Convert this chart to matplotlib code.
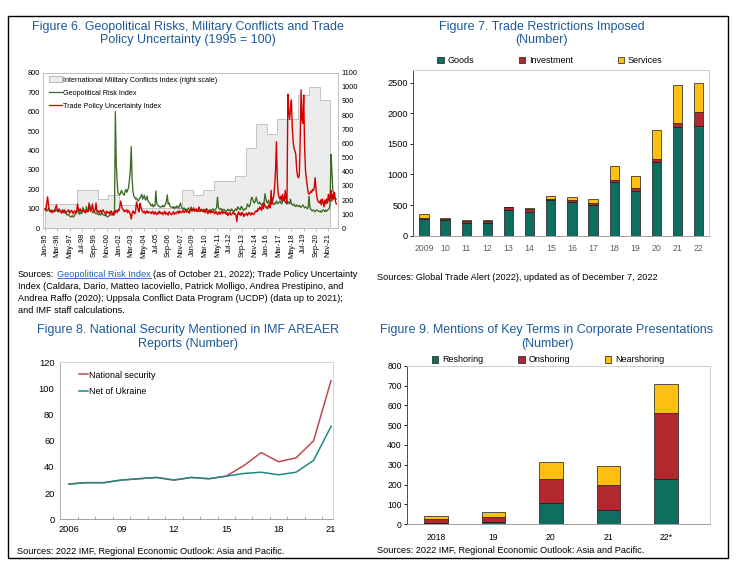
import matplotlib
matplotlib.use("Agg")
import matplotlib.pyplot as plt
from matplotlib.patches import Patch, Rectangle
from matplotlib.lines import Line2D
import numpy as np

plt.rcParams['font.family'] = ['Liberation Sans', 'DejaVu Sans']

# ---------------- data ----------------
# Figure 6: monthly indices, Jan-95 .. Aug-22 (left scale)
gpr = [
    98, 92, 88, 95, 102, 90, 85, 94, 88, 92, 85, 96,        # 1995
    90, 95, 88, 84, 92, 85, 88, 82, 96, 86, 80, 78,         # 1996
    75, 70, 68, 72, 62, 58, 60, 65, 58, 62, 70, 75,         # 1997
    80, 95, 88, 72, 85, 75, 78, 108, 92, 85, 80, 112,       # 1998
    85, 88, 110, 118, 100, 90, 82, 80, 85, 78, 75, 80,      # 1999
    72, 70, 75, 68, 72, 78, 70, 68, 65, 80, 62, 58,         # 2000
    62, 65, 70, 68, 72, 75, 68, 70, 600, 330, 240, 180,     # 2001
    175, 170, 185, 195, 180, 175, 170, 190, 200, 185, 195, 210,  # 2002
    250, 300, 420, 260, 190, 165, 160, 150, 155, 145, 140, 150,  # 2003
    155, 165, 175, 150, 160, 170, 145, 150, 165, 140, 135, 130,  # 2004
    120, 115, 125, 110, 118, 115, 192, 130, 120, 115, 110, 112,  # 2005
    108, 112, 118, 110, 115, 125, 140, 172, 125, 130, 115, 110,  # 2006
    108, 105, 112, 100, 110, 105, 115, 108, 102, 120, 130, 110,  # 2007
    100, 98, 105, 95, 100, 92, 98, 105, 95, 90, 110, 100,   # 2008
    95, 92, 88, 96, 90, 94, 88, 90, 86, 95, 92, 88,         # 2009
    98, 92, 95, 90, 100, 94, 88, 92, 96, 90, 95, 100,       # 2010
    92, 95, 100, 105, 160, 110, 100, 96, 102, 95, 92, 98,   # 2011
    94, 90, 88, 92, 98, 90, 95, 88, 100, 92, 90, 86,        # 2012
    95, 100, 92, 110, 105, 98, 96, 112, 108, 95, 92, 100,   # 2013
    98, 105, 125, 118, 110, 120, 145, 160, 150, 135, 130, 140,   # 2014
    160, 140, 130, 125, 135, 128, 120, 125, 130, 135, 178, 150,  # 2015
    135, 130, 145, 128, 120, 125, 135, 128, 122, 130, 125, 140,  # 2016
    130, 128, 135, 140, 130, 125, 138, 152, 145, 135, 128, 125,  # 2017
    130, 135, 125, 150, 128, 120, 118, 125, 115, 112, 120, 115,  # 2018
    112, 118, 110, 108, 115, 120, 112, 105, 110, 108, 100, 105,  # 2019
    165, 110, 98, 92, 90, 95, 88, 85, 92, 95, 90, 88,       # 2020
    85, 90, 82, 88, 95, 92, 85, 95, 88, 92, 98, 100,        # 2021
    125, 380, 300, 200, 175, 160, 150, 150,                 # 2022
]
tpu = [
    100, 92, 130, 162, 120, 95, 85, 92, 80, 88, 90, 85,     # 1995
    105, 120, 95, 88, 100, 92, 85, 78, 90, 82, 95, 88,      # 1996
    80, 85, 90, 95, 78, 85, 92, 88, 75, 82, 90, 80,         # 1997
    85, 125, 95, 90, 100, 88, 92, 85, 95, 90, 80, 88,       # 1998
    92, 85, 130, 95, 88, 100, 125, 92, 85, 95, 130, 88,     # 1999
    90, 80, 85, 92, 78, 88, 95, 85, 80, 75, 88, 82,         # 2000
    78, 85, 72, 90, 80, 68, 85, 75, 88, 92, 80, 95,         # 2001
    90, 110, 140, 118, 100, 95, 85, 92, 88, 95, 80, 90,     # 2002
    85, 70, 48, 75, 90, 80, 75, 90, 135, 120, 95, 85,       # 2003
    128, 110, 95, 85, 80, 88, 75, 82, 90, 78, 85, 80,       # 2004
    82, 75, 88, 80, 72, 85, 78, 70, 82, 75, 88, 80,         # 2005
    75, 82, 70, 78, 88, 72, 80, 75, 68, 85, 78, 72,         # 2006
    70, 78, 85, 72, 80, 75, 82, 88, 76, 90, 84, 80,         # 2007
    85, 92, 80, 88, 95, 82, 90, 86, 78, 95, 100, 88,        # 2008
    92, 105, 88, 95, 100, 85, 92, 110, 95, 88, 98, 90,      # 2009
    85, 92, 80, 100, 88, 75, 85, 92, 78, 90, 82, 88,        # 2010
    80, 75, 88, 82, 70, 78, 85, 72, 80, 90, 76, 85,         # 2011
    78, 85, 72, 80, 65, 75, 82, 70, 70, 78, 85, 72,         # 2012
    75, 68, 35, 72, 85, 70, 78, 65, 82, 75, 60, 72,         # 2013
    70, 78, 65, 75, 82, 72, 68, 80, 75, 70, 78, 85,         # 2014
    90, 85, 100, 95, 110, 105, 92, 120, 100, 130, 115, 105, # 2015
    110, 100, 120, 115, 105, 195, 125, 150, 165, 220, 300, 445,  # 2016
    250, 180, 160, 150, 165, 140, 175, 150, 140, 195, 150, 130,  # 2017
    690, 600, 560, 620, 660, 520, 445, 410, 400, 380, 300, 270,  # 2018
    260, 275, 450, 712, 560, 540, 685, 420, 300, 255, 220, 185,  # 2019
    175, 180, 190, 185, 200, 195, 210, 260, 200, 160, 140, 135,  # 2020
    130, 145, 120, 150, 135, 110, 145, 125, 150, 130, 175, 140,  # 2021
    165, 195, 140, 175, 150, 185, 140, 125,                 # 2022
]
conflict_years = list(range(1995, 2022))
conflict_index = [170, 170, 170, 272, 272, 205, 238, 168, 168, 140, 140, 140, 140,
                  270, 238, 268, 335, 335, 368, 570, 738, 670, 770, 770, 940, 1000, 905]
month_labels = ['Jan-95', 'Mar-96', 'May-97', 'Jul-98', 'Sep-99', 'Nov-00', 'Jan-02',
                'Mar-03', 'May-04', 'Jul-05', 'Sep-06', 'Nov-07', 'Jan-09', 'Mar-10',
                'May-11', 'Jul-12', 'Sep-13', 'Nov-14', 'Jan-16', 'Mar-17', 'May-18',
                'Jul-19', 'Sep-20', 'Nov-21']

# Figure 7: trade restrictions
trade_years = ['2009', '10', '11', '12', '13', '14', '15', '16', '17', '18', '19', '20', '21', '22']
goods = [280, 250, 215, 215, 420, 395, 575, 545, 505, 870, 735, 1205, 1780, 1800]
investment = [15, 25, 30, 30, 45, 35, 30, 30, 25, 40, 40, 50, 60, 220]
services = [55, 15, 5, 5, 10, 25, 50, 55, 75, 225, 205, 470, 620, 470]

# Figure 8: AREAER mentions
areaer_years = list(range(2006, 2022))
national_security = [27, 28, 28, 30, 31, 32, 30, 32, 31, 33, 41, 51, 44, 47, 60, 106]
net_of_ukraine = [27, 28, 28, 30, 31, 32, 30, 32, 31, 33, 35, 36, 34, 36, 45, 71]

# Figure 9: corporate presentations
corp_years = ['2018', '19', '20', '21', '22*']
reshoring = [5, 10, 105, 70, 230]
onshoring = [22, 25, 125, 127, 330]
nearshoring = [16, 28, 83, 95, 148]

# ---------------- layout helpers ----------------
W, H = 744, 588
TITLE_BLUE = '#1d5a9c'
TEAL = '#0f6e5f'
RED = '#b3282e'
YELLOW = '#fdc010'


def fx(px):
    return px / W


def fy(py):
    return 1 - py / H


def box(left, top, right, bottom):
    return [fx(left), fy(bottom), (right - left) / W, (bottom - top) / H]


fig = plt.figure(figsize=(7.44, 5.88), dpi=100)

# outer frame
fig.add_artist(Rectangle((fx(8), fy(558)), (728 - 8) / W, (558 - 15.5) / H,
                         transform=fig.transFigure, fill=False, lw=1.0, ec='black'))

title_kw = dict(ha='center', va='center', fontsize=9, color=TITLE_BLUE, linespacing=1.2)
fig.text(fx(188), fy(33.5), 'Figure 6. Geopolitical Risks, Military Conflicts and Trade\n'
         'Policy Uncertainty (1995 = 100)', **title_kw)
fig.text(fx(542), fy(33.5), 'Figure 7. Trade Restrictions Imposed\n(Number)', **title_kw)
fig.text(fx(188), fy(337), 'Figure 8. National Security Mentioned in IMF AREAER\n'
         'Reports (Number)', **title_kw)
fig.text(fx(547), fy(337), 'Figure 9. Mentions of Key Terms in Corporate Presentations\n'
         '(Number)', **title_kw)

# ---------------- Figure 6 ----------------
ax1 = fig.add_axes(box(43.3, 72.7, 338.3, 228.3))
ax1r = ax1.twinx()
ax1.set_zorder(ax1r.get_zorder() + 1)
ax1.patch.set_visible(False)

edges = [(y - 1995) * 12 for y in conflict_years] + [(conflict_years[-1] + 1 - 1995) * 12]
vals = conflict_index + [conflict_index[-1]]
ax1r.fill_between(edges, vals, step='post', color='#ececec', lw=0)
ax1r.step(edges, vals, where='post', color='#c4c4c4', lw=0.7)
ax1r.plot([edges[0], edges[0]], [0, vals[0]], color='#c4c4c4', lw=0.7)
ax1r.plot([edges[-1], edges[-1]], [0, vals[-1]], color='#c4c4c4', lw=0.7)

months = np.arange(len(gpr))
ax1.plot(months, gpr, color='#3b6b25', lw=0.95)
ax1.plot(months, tpu, color='#d40000', lw=1.0)

ax1.set_xlim(-1.9, 333.3)
ax1.set_ylim(0, 800)
ax1r.set_ylim(0, 1100)
ax1.set_yticks(range(0, 801, 100))
ax1r.set_yticks(range(0, 1101, 100))
ax1.set_xticks(np.arange(0, 14 * len(month_labels), 14))
ax1.set_xticklabels(month_labels, rotation=90)
for a in (ax1, ax1r):
    a.tick_params(axis='both', labelsize=5.3, length=0, pad=2.5)
    for s in a.spines.values():
        s.set_color('#bfbfbf')
        s.set_linewidth(0.6)
ax1.tick_params(axis='x', length=2, color='#bfbfbf', pad=1.5)

leg1 = ax1.legend(handles=[Patch(facecolor='#ececec', edgecolor='#b0b0b0', lw=0.6),
                           Line2D([], [], color='#3b6b25', lw=0.9),
                           Line2D([], [], color='#d40000', lw=0.9)],
                  labels=['International Military Conflicts Index (right scale)',
                          'Geopolitical Risk Index', 'Trade Policy Uncertainty Index'],
                  loc='upper left', bbox_to_anchor=(fx(49), fy(76.5)),
                  bbox_transform=fig.transFigure, frameon=False, fontsize=5.2,
                  handlelength=1.8, handleheight=0.9, handletextpad=0.15,
                  labelspacing=0.75, borderpad=0, borderaxespad=0)

# sources with link
renderer = fig.canvas.get_renderer()
src_kw = dict(fontsize=6.55, va='center', ha='left')
t1 = fig.text(fx(18), fy(274.5), 'Sources:', **src_kw)
b1 = t1.get_window_extent(renderer)
t2 = fig.text((b1.x1 + 2.5) / W, fy(274.5), 'Geopolitical Risk Index', color='#1f5fbf', **src_kw)
b2 = t2.get_window_extent(renderer)
fig.add_artist(Line2D([b2.x0 / W, b2.x1 / W], [(b2.y0 + 1.2) / H] * 2,
                      transform=fig.transFigure, color='#1f5fbf', lw=0.6))
fig.text((b2.x1 + 2.5) / W, fy(274.5), '(as of October 21, 2022); Trade Policy Uncertainty', **src_kw)
fig.text(fx(18), fy(286.5), 'Index (Caldara, Dario, Matteo Iacoviello, Patrick Molligo, '
         'Andrea Prestipino, and', **src_kw)
fig.text(fx(18), fy(298.5), 'Andrea Raffo (2020); Uppsala Conflict Data Program (UCDP) '
         '(data up to 2021);', **src_kw)
fig.text(fx(18), fy(310.5), 'and IMF staff calculations.', **src_kw)

# ---------------- Figure 7 ----------------
ax2 = fig.add_axes(box(413.3, 70.4, 709.3, 235.7))
x2 = np.arange(len(trade_years))
bw = 0.44
ax2.bar(x2, goods, bw, color=TEAL, edgecolor='#1a1a1a', lw=0.5, label='Goods')
ax2.bar(x2, investment, bw, bottom=goods, color=RED, edgecolor='#1a1a1a', lw=0.5,
        label='Investment')
gi = [g + i for g, i in zip(goods, investment)]
ax2.bar(x2, services, bw, bottom=gi, color=YELLOW, edgecolor='#1a1a1a', lw=0.5,
        label='Services')
ax2.set_xlim(-0.5, len(trade_years) - 0.5)
ax2.set_ylim(0, 2700)
ax2.set_yticks(range(0, 2501, 500))
ax2.set_xticks(x2)
ax2.set_xticklabels(trade_years, color='#606060')
ax2.tick_params(axis='y', labelsize=6.6, length=2, width=0.6, pad=2)
ax2.tick_params(axis='x', labelsize=6.3, length=0, pad=6)
ax2.spines['left'].set_color('#303030')
ax2.spines['bottom'].set_color('#909090')
for s in ('top', 'right'):
    ax2.spines[s].set_color('#c8c8c8')
for s in ax2.spines.values():
    s.set_linewidth(0.6)
ax2.legend(loc='center', bbox_to_anchor=(fx(550), fy(60.7)), bbox_transform=fig.transFigure,
           ncol=3, frameon=False, fontsize=6.5, handlelength=0.7, handleheight=0.7,
           handletextpad=0.4, columnspacing=5.0, borderpad=0)
fig.text(fx(376.7), fy(277.7), 'Sources: Global Trade Alert (2022), updated as of December 7, 2022',
         **src_kw)

# ---------------- Figure 8 ----------------
ax3 = fig.add_axes(box(60, 362.3, 333.3, 519.3))
x3 = np.arange(len(areaer_years))
ax3.plot(x3, national_security, color='#bf4a52', lw=1.1, label='National security')
ax3.plot(x3, net_of_ukraine, color='#1e8a80', lw=1.1, label='Net of Ukraine')
ax3.set_xlim(-0.52, len(areaer_years) - 0.87)
ax3.set_ylim(0, 120)
ax3.set_yticks(range(0, 121, 20))
lab_idx = x3[::3]
ax3.set_xticks(lab_idx)
ax3.set_xticklabels(['2006' if y == 2006 else f'{y % 100:02d}' for y in areaer_years[::3]])
ax3.set_xticks(x3[:-1] + 0.5, minor=True)
ax3.tick_params(axis='both', which='major', labelsize=6.7, length=0, pad=4)
ax3.tick_params(axis='x', which='minor', direction='in', length=2.5, width=0.5, color='#909090')
ax3.spines['left'].set_color('#a0a0a0')
ax3.spines['bottom'].set_color('#909090')
for s in ('top', 'right'):
    ax3.spines[s].set_color('#cfcfcf')
for s in ax3.spines.values():
    s.set_linewidth(0.6)
ax3.legend(loc='upper left', bbox_to_anchor=(fx(78.5), fy(370.5)), bbox_transform=fig.transFigure,
           frameon=False, fontsize=6.4, handlelength=1.05, handletextpad=0.1,
           labelspacing=0.9, borderpad=0, borderaxespad=0)
fig.text(fx(17), fy(551), 'Sources: 2022 IMF, Regional Economic Outlook: Asia and Pacific.', **src_kw)

# ---------------- Figure 9 ----------------
ax4 = fig.add_axes(box(407.3, 365.7, 710, 524.3))
x4 = np.arange(len(corp_years))
bw4 = 0.41
ax4.bar(x4, reshoring, bw4, color=TEAL, edgecolor='#1a1a1a', lw=0.5, label='Reshoring')
ax4.bar(x4, onshoring, bw4, bottom=reshoring, color=RED, edgecolor='#1a1a1a', lw=0.5,
        label='Onshoring')
ro = [r + o for r, o in zip(reshoring, onshoring)]
ax4.bar(x4, nearshoring, bw4, bottom=ro, color=YELLOW, edgecolor='#1a1a1a', lw=0.5,
        label='Nearshoring')
ax4.set_xlim(-0.5, 4.77)
ax4.set_ylim(0, 800)
ax4.set_yticks(range(0, 801, 100))
ax4.set_xticks(x4)
ax4.set_xticklabels(corp_years)
ax4.tick_params(axis='y', labelsize=6.2, length=2, width=0.6, pad=2)
ax4.tick_params(axis='x', labelsize=6.2, length=0, pad=6)
ax4.spines['left'].set_color('#303030')
ax4.spines['bottom'].set_color('#909090')
for s in ('top', 'right'):
    ax4.spines[s].set_color('#c8c8c8')
for s in ax4.spines.values():
    s.set_linewidth(0.6)
ax4.legend(loc='center', bbox_to_anchor=(fx(548), fy(360)), bbox_transform=fig.transFigure,
           ncol=3, frameon=False, fontsize=6.5, handlelength=0.7, handleheight=0.7,
           handletextpad=0.4, columnspacing=3.9, borderpad=0)
fig.text(fx(376.7), fy(550.7), 'Sources: 2022 IMF, Regional Economic Outlook: Asia and Pacific.',
         **src_kw)

fig.savefig('out.png', dpi=100)
